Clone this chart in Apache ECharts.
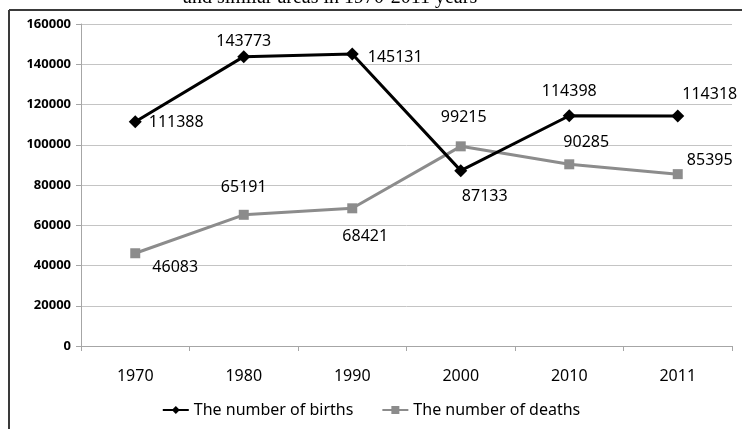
<!DOCTYPE html>
<html>
<head>
<meta charset="utf-8">
<script src="https://cdn.jsdelivr.net/npm/echarts@6/dist/echarts.min.js"></script>
<style>
  html, body { margin: 0; padding: 0; background: #fff; }
  #chart { width: 742px; height: 429px; }
</style>
</head>
<body>
<div id="chart"></div>
<script>
// data
var years = ['1970', '1980', '1990', '2000', '2010', '2011'];
var births = [111388, 143773, 145131, 87133, 114398, 114318];
var deaths = [46083, 65191, 68421, 99215, 90285, 85395];
var yTicks = [0, 20000, 40000, 60000, 80000, 100000, 120000, 140000, 160000];

// where each value label sits next to its point
var birthLabelPos = [
  { position: 'right', offset: [2, 1] },
  { position: 'top', offset: [0, 4] },
  { position: 'right', offset: [4, 4] },
  { position: 'bottom', offset: [24, 6] },
  { position: 'top', offset: [0, -5] },
  { position: 'top', offset: [32, -2] }
];
var deathLabelPos = [
  { position: 'bottom', offset: [40, -4] },
  { position: 'top', offset: [0, -9] },
  { position: 'bottom', offset: [13, 10] },
  { position: 'top', offset: [3, -11] },
  { position: 'top', offset: [17, -4] },
  { position: 'top', offset: [32, 4] }
];

function withLabels(values, places) {
  return values.map(function (v, i) {
    return { value: v, label: places[i] };
  });
}

var chart = echarts.init(document.getElementById('chart'));

var labelFont = { fontFamily: 'Noto Sans', fontSize: 16, color: '#000' };

var option = {
  animation: false,
  textStyle: { fontFamily: 'Noto Sans' },
  graphic: [
    // frame of the chart area (left and top edges show)
    { type: 'line', shape: { x1: 9, y1: 10, x2: 742, y2: 10 }, style: { stroke: '#3a3a3a', lineWidth: 2 } },
    { type: 'line', shape: { x1: 9, y1: 10, x2: 9, y2: 429 }, style: { stroke: '#3a3a3a', lineWidth: 2 } },
    // title, cut off at the top
    {
      type: 'text', left: 183, top: -12,
      style: { text: 'and similar areas in 1970-2011 years', font: '20px "Liberation Serif"', fill: '#000' }
    }
  ],
  legend: {
    bottom: 6,
    left: 'center',
    itemWidth: 26,
    itemHeight: 10,
    itemGap: 28,
    textStyle: { fontFamily: 'Noto Sans', fontSize: 16, color: '#000' },
    data: ['The number of births', 'The number of deaths']
  },
  grid: { left: 81, right: 10, top: 24, bottom: 83 },
  xAxis: {
    type: 'category',
    data: years,
    axisLine: { lineStyle: { color: '#a6a6a6' } },
    axisTick: { show: true, length: 5, lineStyle: { color: '#a6a6a6' } },
    axisLabel: { fontFamily: 'Noto Sans', fontSize: 16, color: '#000', margin: 22 }
  },
  yAxis: {
    type: 'value',
    min: yTicks[0],
    max: yTicks[yTicks.length - 1],
    interval: yTicks[1] - yTicks[0],
    axisLine: { show: true, lineStyle: { color: '#a6a6a6' } },
    axisTick: { show: true, length: 5, lineStyle: { color: '#a6a6a6' } },
    axisLabel: {
      fontFamily: 'Noto Sans', fontSize: 13, fontWeight: 'bold', color: '#000', margin: 10,
      formatter: function (v) { return String(v); }
    },
    splitLine: { lineStyle: { color: '#c4c4c4' } }
  },
  series: [
    {
      name: 'The number of births',
      type: 'line',
      data: withLabels(births, birthLabelPos),
      symbol: 'diamond',
      symbolSize: 13,
      lineStyle: { color: '#000', width: 3 },
      itemStyle: { color: '#000' },
      label: Object.assign({ show: true }, labelFont),
      z: 3
    },
    {
      name: 'The number of deaths',
      type: 'line',
      data: withLabels(deaths, deathLabelPos),
      symbol: 'rect',
      symbolSize: 10,
      lineStyle: { color: '#8c8c8c', width: 3 },
      itemStyle: { color: '#8c8c8c' },
      label: Object.assign({ show: true }, labelFont),
      z: 2
    }
  ]
};

chart.setOption(option);
</script>
</body>
</html>
